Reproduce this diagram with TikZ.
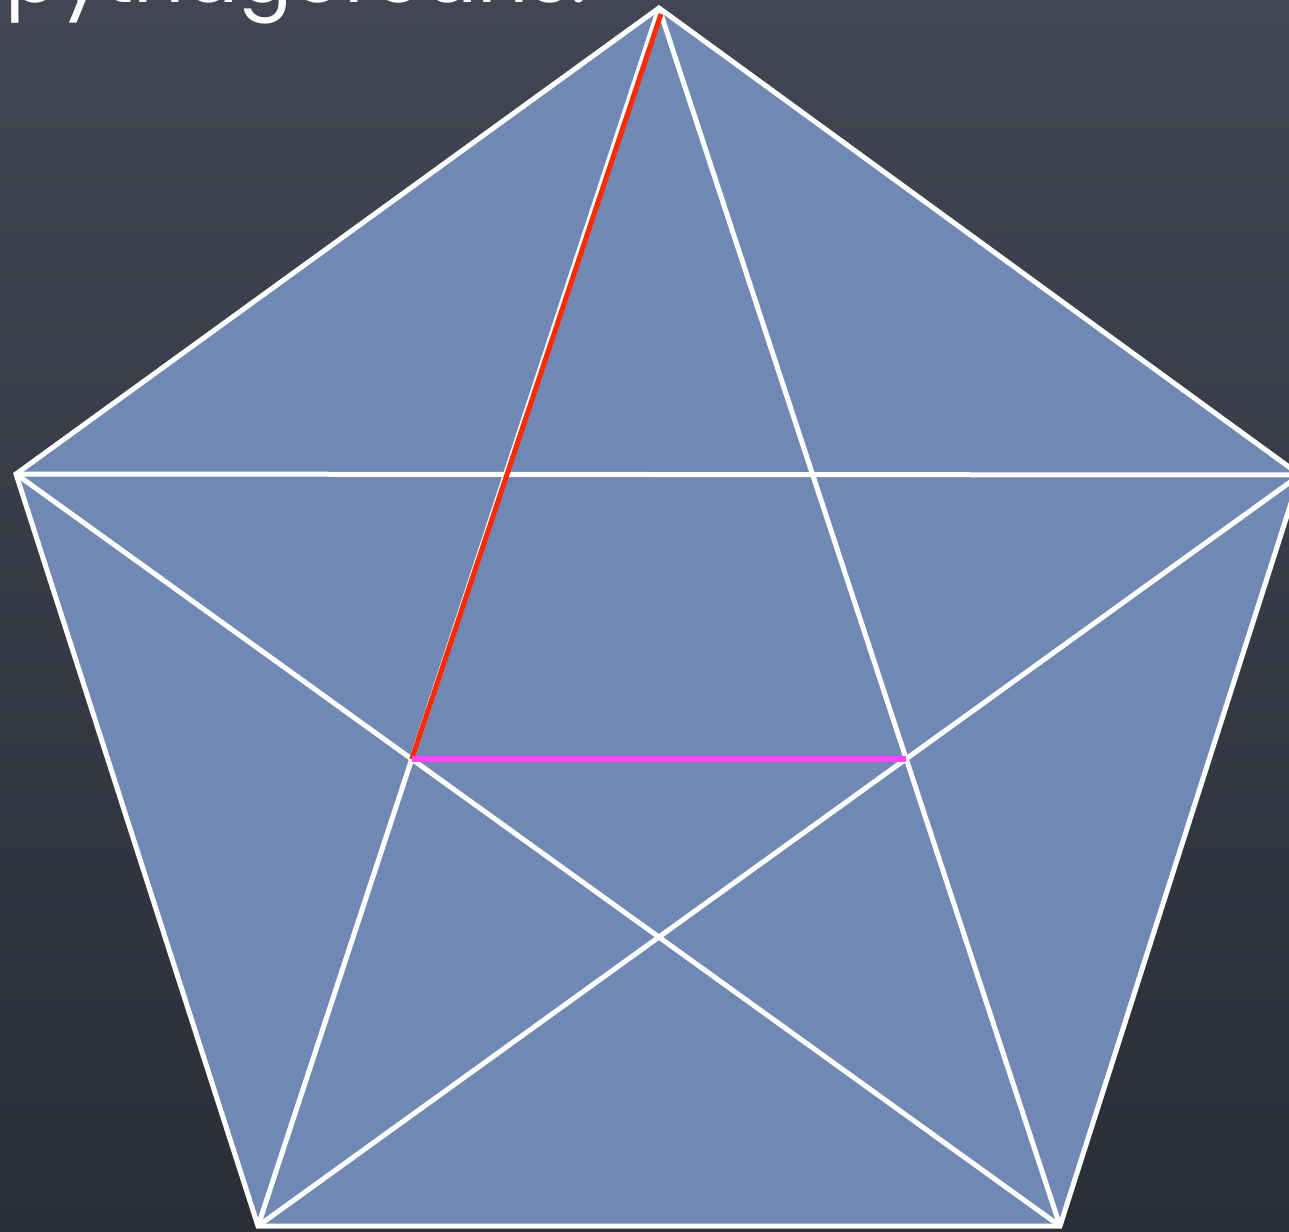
\documentclass[tikz,border=0pt]{standalone}
\usepackage{fontspec}
\setmainfont{Poppins}
\usepackage{xcolor}
\usetikzlibrary{calc}
\definecolor{board}{HTML}{424652}
\definecolor{boarddark}{HTML}{2B2E39}
\definecolor{slate}{HTML}{6F88B4}
\definecolor{redline}{HTML}{FF2A00}
\definecolor{pinkline}{HTML}{FF44FF}
\begin{document}
\begin{tikzpicture}[
		x=1pt, y=-1pt,
		chalk/.style={
				draw=white,
				line width=5pt,
				line join=miter
			},
		mark_red/.style={
				draw=redline,
				line width=5pt
			},
		mark_pink/.style={
				draw=pinkline,
				line width=6pt
			},
		title_text/.style={
				text=white,
				font=\fontsize{80}{88}\selectfont,
				inner sep=0pt
			}
	]
	\useasboundingbox (0,0) rectangle (1289,1231);
	\clip (0,0) rectangle (1289,1231);
	\shade[top color=board, bottom color=boarddark] (0,0) rectangle (1289,1231);

	% outer vertices
	\coordinate (A) at (659, 8);
	\coordinate (B) at (16, 474);
	\coordinate (E) at (1300, 475);
	\coordinate (C) at (258, 1226);
	\coordinate (D) at (1060, 1226);

	% inner points of the star
	\coordinate (P) at (intersection of A--C and B--D);
	\coordinate (Q) at (intersection of A--D and C--E);

	\node[title_text, anchor=base west] (title) at (5, 3) {pythagoreans:};

	\fill[slate] (A) -- (B) -- (C) -- (D) -- (E) -- cycle;
	\draw[chalk] (A) -- (B) -- (C) -- (D) -- (E) -- cycle;
	\draw[chalk] (A) -- (C);
	\draw[chalk] (A) -- (D);
	\draw[chalk] (B) -- (E);
	\draw[chalk] (B) -- (D);
	\draw[chalk] (C) -- (E);

	\draw[mark_red] ($(A)+(2,6)$) -- (P);
	\draw[mark_pink] (P) -- (P -| Q);
\end{tikzpicture}
\end{document}
